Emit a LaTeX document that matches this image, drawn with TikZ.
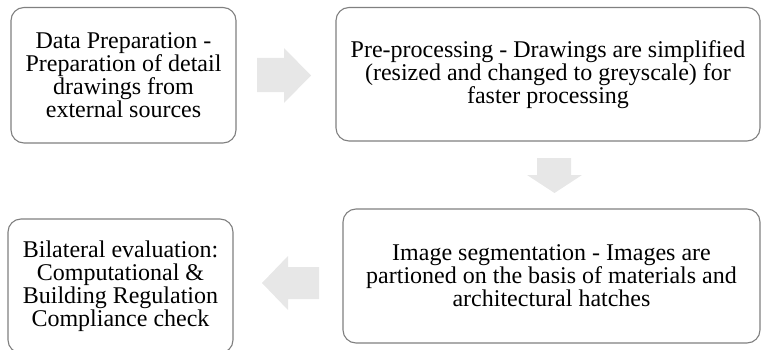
\documentclass[tikz,border=0pt]{standalone}
\usepackage{fontspec}
\setmainfont{Liberation Serif}
\definecolor{boxline}{HTML}{808080}
\definecolor{arrowfill}{HTML}{E7E7E7}
\tikzset{
  stepbox/.style={draw=boxline, line width=1.1pt, rounded corners=13pt, fill=white,
    inner sep=0pt, align=center, font=\fontsize{24}{23}\selectfont},
  blockarrow/.style={fill=arrowfill, draw=none}
}
\begin{document}
\begin{tikzpicture}[x=1pt,y=1pt]
\useasboundingbox (0,0) rectangle (761,349);
\clip (0,0) rectangle (761,349);

% process steps
\node[stepbox, minimum width=225pt, minimum height=135.5pt] (prep) at (123.5,273.75)
  {Data Preparation -\\Preparation of detail\\drawings from\\external sources};
\node[stepbox, minimum width=424pt, minimum height=133.5pt] (pre) at (548,274.75)
  {Pre-processing - Drawings are simplified\\(resized and changed to greyscale) for\\faster processing};
\node[stepbox, minimum width=417pt, minimum height=134pt] (seg) at (551.5,73)
  {Image segmentation - Images are\\partioned on the basis of materials and\\architectural hatches};
\node[stepbox, minimum width=225pt, minimum height=134pt] (eval) at (120.5,63)
  {Bilateral evaluation:\\Computational \&\\Building Regulation\\Compliance check};

% block arrows between the steps
\fill[blockarrow] (257,257) -- (257,291) -- (284,291) -- (284,301) -- (311,273.5)
  -- (284,246) -- (284,257) -- cycle;
\fill[blockarrow] (537,191) -- (571,191) -- (571,174) -- (582,174) -- (554.5,156)
  -- (527,174) -- (537,174) -- cycle;
\fill[blockarrow] (319,82) -- (288,82) -- (288,93) -- (262,66) -- (288,39)
  -- (288,50) -- (319,50) -- cycle;
\end{tikzpicture}
\end{document}
